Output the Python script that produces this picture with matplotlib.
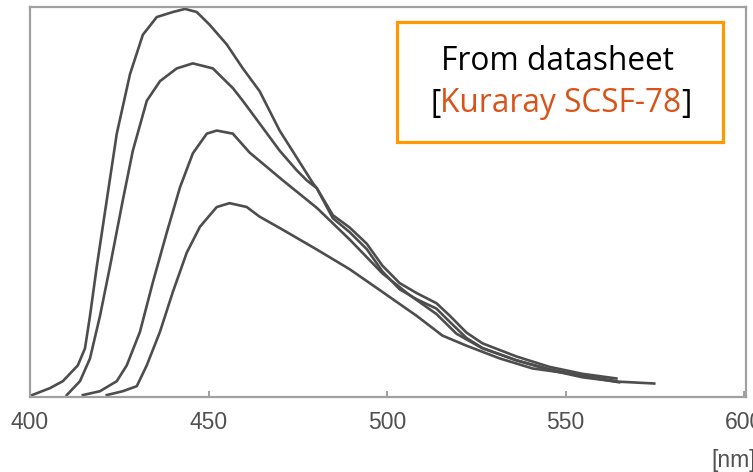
import matplotlib
matplotlib.use("Agg")
import matplotlib.pyplot as plt
from matplotlib.patches import Rectangle

# emission spectra (wavelength nm, relative intensity)
wl_1 = [400.6, 405.6, 409.2, 413.4, 415.4, 416.8, 418.7, 421.5, 424.3, 428.0, 431.6, 435.5,
        440.0, 443.4, 446.7, 450.3, 455.1, 459.6, 464.3, 469.9, 474.7, 479.2, 480.3,
        484.8, 489.5, 494.3, 498.7, 503.5, 508.3, 513.8, 517.5, 522.2, 526.7, 536.2,
        545.5, 554.7, 564.2]
int_1 = [0.0, 1.8, 3.6, 7.7, 12.1, 20.5, 33.3, 50.5, 67.7, 83.1, 93.3, 97.9,
         99.2, 100.0, 99.2, 95.9, 90.8, 84.6, 78.7, 68.5, 61.5, 54.9, 53.6,
         46.6, 43.4, 39.2, 33.5, 29.0, 26.4, 23.8, 20.6, 16.2, 13.4, 10.0,
         7.3, 5.5, 4.3]

wl_2 = [410.3, 414.0, 416.8, 419.6, 422.4, 426.0, 428.8, 432.7, 436.4, 441.1, 445.6,
        451.2, 456.8, 459.6, 465.2, 469.9, 474.7, 477.5, 480.3, 484.8, 489.5, 494.3,
        498.7, 503.5, 508.3, 513.8, 517.5, 522.2, 526.7, 536.2, 545.5, 554.7, 564.2, 574.8]
int_2 = [0.0, 3.6, 9.5, 20.5, 33.3, 50.5, 63.3, 76.2, 81.3, 84.6, 85.9,
         84.6, 79.5, 76.2, 69.2, 63.3, 58.2, 55.6, 53.6, 45.8, 42.2, 37.8,
         32.0, 27.4, 24.8, 22.4, 19.0, 14.8, 12.2, 9.0, 6.5, 4.6, 3.5, 3.0]

wl_3 = [414.8, 419.6, 424.3, 427.1, 430.8, 434.4, 438.3, 442.0, 445.6, 449.5, 452.3,
        456.8, 461.5, 470.8, 480.3, 489.5, 498.7, 506.3, 513.8, 519.4, 526.7, 536.2,
        545.5, 554.7, 565.0]
int_3 = [0.0, 1.0, 3.6, 7.7, 16.4, 29.2, 42.1, 53.8, 62.6, 67.7, 68.5,
         67.7, 62.8, 55.6, 48.5, 40.3, 31.5, 25.9, 21.0, 15.9, 12.1, 9.0,
         6.7, 4.9, 3.3]

wl_4 = [421.5, 426.0, 429.9, 432.7, 436.4, 440.0, 443.9, 447.6, 452.3, 455.9, 460.7,
        464.3, 470.8, 480.3, 489.5, 498.7, 508.3, 515.5, 522.2, 531.5, 540.7, 554.7, 564.2]
int_4 = [0.0, 1.0, 2.3, 7.7, 16.4, 26.7, 36.9, 43.6, 48.7, 49.7, 48.7,
         46.2, 42.8, 37.7, 32.6, 26.7, 20.5, 15.4, 12.8, 9.5, 6.9, 5.1, 3.6]

x_ticks = [400, 450, 500, 550, 600]

fig = plt.figure(figsize=(7.53, 4.72), dpi=100)
ax = fig.add_axes([30/753, 75/472, 716/753, 390/472])

line_col = "#4d4d4d"
for wl, inten in [(wl_1, int_1), (wl_2, int_2), (wl_3, int_3), (wl_4, int_4)]:
    ax.plot(wl, inten, color=line_col, lw=1.9, solid_joinstyle="round")

ax.set_xlim(400, 600.5)
ax.set_ylim(-0.5, 100.5)
ax.set_yticks([])
ax.set_xticks(x_ticks)
ax.set_xticklabels([str(t) for t in x_ticks], fontfamily="Liberation Sans",
                   fontsize=16.5, color="#505050")
ax.tick_params(axis="x", direction="in", length=4, width=1.2, color="#909090", pad=10)
for sp in ax.spines.values():
    sp.set_color("#a0a0a0")
    sp.set_linewidth(1.6)

fig.text(711/753, 1 - 460/472, "[nm]", fontfamily="Liberation Sans", fontsize=16.5,
         color="#505050", ha="left", va="center")

# annotation box
fig.patches.append(Rectangle((397/753, 1 - 142/472), 326/753, 120/472,
                             transform=fig.transFigure, fill=False,
                             edgecolor="#FF9900", lw=2.3))
fig.text(557/753, 1 - 61/472, "From datasheet", fontfamily="Open Sans",
         fontsize=22.8, color="black", ha="center", va="center")

# second line in two colours, pieces placed one after another
fig.canvas.draw()
r = fig.canvas.get_renderer()
pieces = [("[", "black"), ("Kuraray SCSF-78", "#D95319"), ("]", "black")]
texts = []
total = 0
for s, c in pieces:
    t = fig.text(0, 1 - 104/472, s, fontfamily="Open Sans", fontsize=22.8, color=c,
                 ha="left", va="center")
    texts.append(t)
    total += t.get_window_extent(r).width
x0 = 561 - total / 2
for t in texts:
    t.set_x(x0 / 753)
    x0 += t.get_window_extent(r).width

fig.savefig("out.png", dpi=100)
